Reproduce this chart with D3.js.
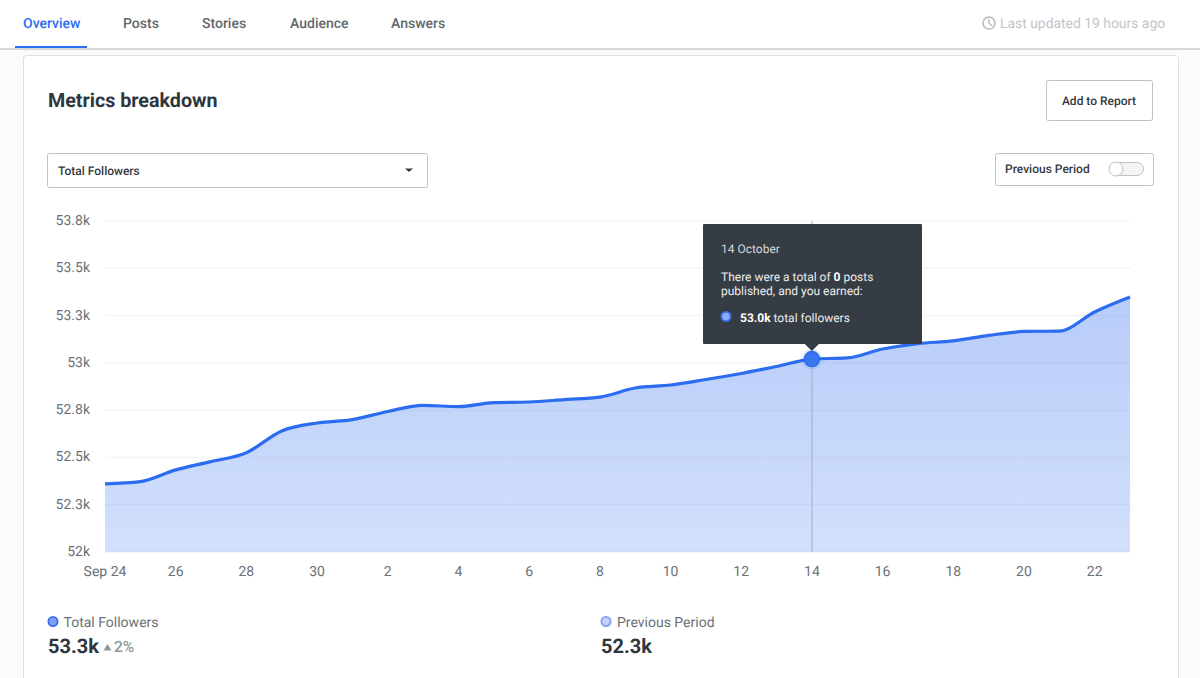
<!DOCTYPE html>
<html>
<head>
<meta charset="utf-8">
<script src="https://cdn.jsdelivr.net/npm/d3@7"></script>
<style>
  html, body { margin: 0; padding: 0; background: #fff; overflow: hidden; }
  svg { display: block; font-family: Roboto, sans-serif; text-rendering: geometricPrecision; }
  .axis path, .axis line { display: none; }
  .axis text { font-family: Roboto, sans-serif; font-size: 14px; fill: #6b7177; }
</style>
</head>
<body>
<svg id="chart" width="1200" height="678"></svg>
<script>
// days on the x axis
const days = ["Sep 24","Sep 25","Sep 26","Sep 27","Sep 28","Sep 29","Sep 30",
  "Oct 1","Oct 2","Oct 3","Oct 4","Oct 5","Oct 6","Oct 7","Oct 8","Oct 9","Oct 10",
  "Oct 11","Oct 12","Oct 13","Oct 14","Oct 15","Oct 16","Oct 17","Oct 18","Oct 19",
  "Oct 20","Oct 21","Oct 22","Oct 23"];
const followers = [52360,52372,52434,52478,52525,52640,52682,52700,52743,52775,
  52769,52790,52793,52806,52819,52867,52883,52912,52944,52981,
  53020,53026,53073,53102,53116,53145,53166,53168,53269,53348];
const xTickDays = ["Sep 24","Sep 26","Sep 28","Sep 30","Oct 2","Oct 4","Oct 6","Oct 8",
  "Oct 10","Oct 12","Oct 14","Oct 16","Oct 18","Oct 20","Oct 22"];
const xTickLabels = ["Sep 24","26","28","30","2","4","6","8","10","12","14","16","18","20","22"];
const yTicks = [52000,52250,52500,52750,53000,53250,53500,53750];
const yTickLabels = ["52k","52.3k","52.5k","52.8k","53k","53.3k","53.5k","53.8k"];
const navItems = ["Overview","Posts","Stories","Audience","Answers"];
const hoverDay = "Oct 14";

const svg = d3.select("#chart");
const x = d3.scalePoint().domain(days).range([105, 1130]);
const y = d3.scaleLinear().domain([52000, 53750]).range([552, 221]);

function label(txt, px, py, size, color, weight, anchor) {
  return svg.append("text").attr("x", px).attr("y", py)
    .attr("font-size", size).attr("fill", color)
    .attr("font-weight", weight || 400)
    .attr("text-anchor", anchor || "start").text(txt);
}

// page background and card
svg.append("rect").attr("width", 1200).attr("height", 678).attr("fill", "#fbfbfb");
svg.append("rect").attr("width", 1200).attr("height", 48).attr("fill", "#fff");
svg.append("rect").attr("y", 48).attr("width", 1200).attr("height", 2).attr("fill", "#d6d7d9");
svg.append("rect").attr("x", 23.5).attr("y", 55.5).attr("width", 1155).attr("height", 640)
  .attr("rx", 3).attr("fill", "#fff").attr("stroke", "#dddfe1");

// nav
const navX = [23, 123, 202, 290, 391];
navItems.forEach((d, i) => label(d, navX[i], 28, 14, i ? "#62676c" : "#2b6cf0", 500));
svg.append("rect").attr("x", 15).attr("y", 46).attr("width", 72).attr("height", 2).attr("fill", "#2b6cf0");
svg.append("circle").attr("cx", 989).attr("cy", 23).attr("r", 6)
  .attr("fill", "none").attr("stroke", "#b9bbbe").attr("stroke-width", 1.6);
svg.append("path").attr("d", "M989 19V23.5L992 25.5").attr("fill", "none")
  .attr("stroke", "#b9bbbe").attr("stroke-width", 1.4);
label("Last updated 19 hours ago", 1000, 28, 13.9, "#c3c5c8", 400);

// header controls
label("Metrics breakdown", 48, 107, 19.7, "#2f363d", 700);
svg.append("rect").attr("x", 1046.5).attr("y", 80.5).attr("width", 106).attr("height", 40)
  .attr("rx", 2).attr("fill", "#fff").attr("stroke", "#bfc1c4");
label("Add to Report", 1099, 105, 12, "#33393f", 500, "middle");
svg.append("rect").attr("x", 47.5).attr("y", 153.5).attr("width", 380).attr("height", 34)
  .attr("rx", 2).attr("fill", "#fff").attr("stroke", "#bfc1c4");
label("Total Followers", 58, 175, 12, "#33393f", 500);
svg.append("path").attr("d", "M405 168.5h8l-4 3.5z").attr("fill", "#33393f");
svg.append("rect").attr("x", 995.5).attr("y", 153.5).attr("width", 158).attr("height", 32)
  .attr("rx", 2).attr("fill", "#fff").attr("stroke", "#bfc1c4");
label("Previous Period", 1005, 173, 12, "#33393f", 500);
svg.append("rect").attr("x", 1109.5).attr("y", 162.5).attr("width", 34).attr("height", 13)
  .attr("rx", 6.5).attr("fill", "#f4f4f5").attr("stroke", "#bfc1c4");
svg.append("circle").attr("cx", 1116).attr("cy", 169).attr("r", 7)
  .attr("fill", "#fff").attr("stroke", "#bfc1c4");

// area and line
const defs = svg.append("defs");
const grad = defs.append("linearGradient").attr("id", "areaFill")
  .attr("x1", 0).attr("x2", 0).attr("y1", 0).attr("y2", 1);
grad.append("stop").attr("offset", "0%").attr("stop-color", "#b7ccf9");
grad.append("stop").attr("offset", "100%").attr("stop-color", "#d3e0fc");

const area = d3.area().x((d, i) => x(days[i])).y0(y(52000)).y1(d => y(d)).curve(d3.curveMonotoneX);
const line = d3.line().x((d, i) => x(days[i])).y(d => y(d)).curve(d3.curveMonotoneX);

svg.append("path").datum(followers).attr("d", area).attr("fill", "url(#areaFill)");

// grid sits over the area, very faint
svg.selectAll("line.grid").data(yTicks).enter().append("line")
  .attr("class", "grid")
  .attr("x1", 105).attr("x2", 1130)
  .attr("y1", d => y(d)).attr("y2", d => y(d))
  .attr("stroke", "#8a94b8").attr("stroke-opacity", 0.1).attr("stroke-width", 1.5);

svg.append("line").attr("x1", x(hoverDay)).attr("x2", x(hoverDay))
  .attr("y1", 221).attr("y2", 552).attr("stroke", "#a3adc4").attr("stroke-width", 1);

svg.append("path").datum(followers).attr("d", line)
  .attr("fill", "none").attr("stroke", "#2b6cf0").attr("stroke-width", 3.2);

// axes
svg.append("g").attr("class", "axis").attr("transform", "translate(90,-1)")
  .call(d3.axisLeft(y).tickValues(yTicks).tickSize(0).tickPadding(0)
    .tickFormat((d, i) => yTickLabels[i]));
svg.append("g").attr("class", "axis").attr("transform", "translate(-0.5,566)")
  .call(d3.axisBottom(x).tickValues(xTickDays).tickSize(0).tickPadding(0)
    .tickFormat((d, i) => xTickLabels[i]));

// hover marker
const hoverVal = followers[days.indexOf(hoverDay)];
svg.append("circle").attr("cx", x(hoverDay)).attr("cy", y(hoverVal)).attr("r", 10.5)
  .attr("fill", "#2b6cf0").attr("fill-opacity", 0.12);
svg.append("circle").attr("cx", x(hoverDay)).attr("cy", y(hoverVal)).attr("r", 7.5)
  .attr("fill", "#3b76ee").attr("stroke", "#2b6cf0").attr("stroke-width", 1.5);

// tooltip
const tipX = 703, tipY = 224;
svg.append("rect").attr("x", tipX).attr("y", tipY).attr("width", 219).attr("height", 120)
  .attr("rx", 1).attr("fill", "#363c43");
svg.append("path").attr("d", `M${x(hoverDay) - 7} 344h14l-7 7z`).attr("fill", "#363c43");
label("14 October", 721, 253, 12, "#d5d7d9");
const l1 = label("There were a total of ", 721, 281, 12, "#eceded");
l1.append("tspan").attr("font-weight", 700).attr("fill", "#fff").text("0");
l1.append("tspan").text(" posts");
label("published, and you earned:", 721, 295, 12, "#eceded");
svg.append("circle").attr("cx", 726).attr("cy", 316.5).attr("r", 4.6)
  .attr("fill", "#8fa9f5").attr("stroke", "#3b6ff0").attr("stroke-width", 1.8);
const l2 = label("53.0k", 740, 322, 12, "#fff", 700);
l2.append("tspan").attr("font-weight", 400).attr("fill", "#eceded").text(" total followers");

// legend
svg.append("circle").attr("cx", 53).attr("cy", 621.5).attr("r", 4.6)
  .attr("fill", "#7f9ef5").attr("stroke", "#3b6ff0").attr("stroke-width", 1.8);
label("Total Followers", 63.5, 627, 14, "#6b7177");
label("53.3k", 48, 653, 20, "#2f363d", 700);
svg.append("path").attr("d", "M103.5 650.5l4-6.5 4 6.5z").attr("fill", "#8a9a94");
label("2%", 114, 652, 15.5, "#8a9a94", 500);
svg.append("circle").attr("cx", 606).attr("cy", 621.5).attr("r", 4.6)
  .attr("fill", "#c3d2f7").attr("stroke", "#7f9ef0").attr("stroke-width", 1.8);
label("Previous Period", 617, 627, 14, "#6b7177");
label("52.3k", 601, 653, 20, "#2f363d", 700);
</script>
</body>
</html>
